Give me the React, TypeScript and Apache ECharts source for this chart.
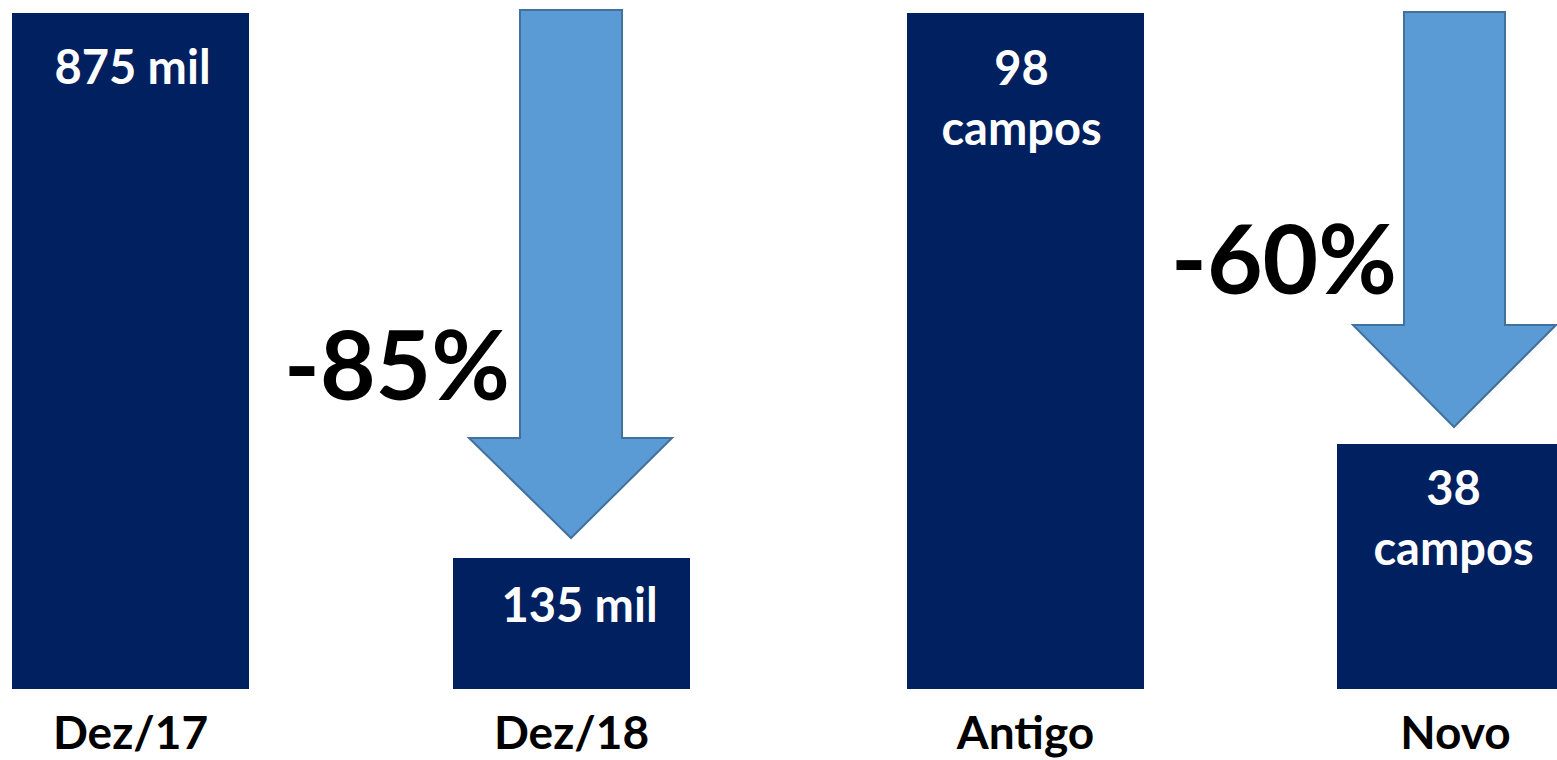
import React, { useEffect, useRef } from "react";
import * as echarts from "echarts";

// ---- data ----
const periodCategories = ["Dez/17", "Dez/18"];
const recordValues = [875, 135]; // mil
const formCategories = ["Antigo", "Novo"];
const fieldValues = [98, 38]; // campos
const reductionLabels = ["-85%", "-60%"];

// ---- styles ----
const BAR = "#002060";
const ARROW_FILL = "#5B9BD5";
const ARROW_STROKE = "#41719C";
const FONT = "Lato";

const leftLabelOffsets = [[2, 0], [8, -7]];
const rightLabelOffsets = [[-4, 0], [-2, -11]];

export default function App() {
  const ref = useRef<HTMLDivElement>(null);

  useEffect(() => {
    document.body.style.margin = "0";
    const chart = echarts.init(ref.current!, null, { renderer: "svg" });

    const catAxis = (gridIndex: number, data: string[]) => ({
      type: "category",
      gridIndex,
      data,
      boundaryGap: false,
      axisLine: { show: false },
      axisTick: { show: false },
      splitLine: { show: false },
      axisLabel: {
        interval: 0,
        margin: 19,
        color: "#000",
        fontFamily: FONT,
        fontWeight: "bold",
        fontSize: 46,
        lineHeight: 46,
      },
    });

    const arrow = (x0: number, x1: number, top: number, headY: number, hx0: number, hx1: number, tipX: number, tipY: number) => ({
      type: "polygon",
      shape: {
        points: [
          [x0, top],
          [x1, top],
          [x1, headY],
          [hx1, headY],
          [tipX, tipY],
          [hx0, headY],
          [x0, headY],
        ],
      },
      style: { fill: ARROW_FILL, stroke: ARROW_STROKE, lineWidth: 2 },
      z: 10,
    });

    const bigText = (text: string, x: number, y: number) => ({
      type: "text",
      x,
      y,
      style: {
        text,
        fill: "#000",
        font: `bold 96px ${FONT}`,
        textAlign: "center",
        textVerticalAlign: "middle",
      },
      z: 11,
    });

    chart.setOption({
      animation: false,
      backgroundColor: "#fff",
      grid: [
        { left: 130.5, width: 441, top: 13, height: 676 },
        { left: 1025.5, width: 430, top: 13, height: 676 },
      ],
      xAxis: [catAxis(0, periodCategories), catAxis(1, formCategories)],
      yAxis: [
        { type: "value", gridIndex: 0, min: -43, max: 875, startValue: -43, show: false },
        { type: "value", gridIndex: 1, min: 3.9, max: 98, startValue: 3.9, show: false },
      ],
      series: [
        {
          type: "bar",
          xAxisIndex: 0,
          yAxisIndex: 0,
          barWidth: 237,
          clip: false,
          itemStyle: { color: BAR },
          label: {
            show: true,
            position: "insideTop",
            distance: 25,
            formatter: "{c} mil",
            color: "#fff",
            fontFamily: FONT,
            fontWeight: "bold",
            fontSize: 47,
            lineHeight: 56,
          },
          data: recordValues.map((v, i) => ({ value: v, label: { offset: leftLabelOffsets[i] } })),
        },
        {
          type: "bar",
          xAxisIndex: 1,
          yAxisIndex: 1,
          barWidth: 237,
          clip: false,
          itemStyle: { color: BAR },
          label: {
            show: true,
            position: "insideTop",
            distance: 23.5,
            formatter: "{c}\ncampos",
            color: "#fff",
            fontFamily: FONT,
            fontWeight: "bold",
            fontSize: 47,
            lineHeight: 60,
          },
          data: fieldValues.map((v, i) => ({ value: v, label: { offset: rightLabelOffsets[i] } })),
        },
      ],
      graphic: [
        arrow(520, 622, 10, 438, 469, 672, 571, 538),
        arrow(1404, 1505, 12, 325, 1353, 1556, 1454, 427),
        bigText(reductionLabels[0], 397, 362.5),
        bigText(reductionLabels[1], 1284, 256.5),
      ],
    });

    return () => chart.dispose();
  }, []);

  return <div ref={ref} style={{ width: 1557, height: 760, overflow: "hidden" }} />;
}
